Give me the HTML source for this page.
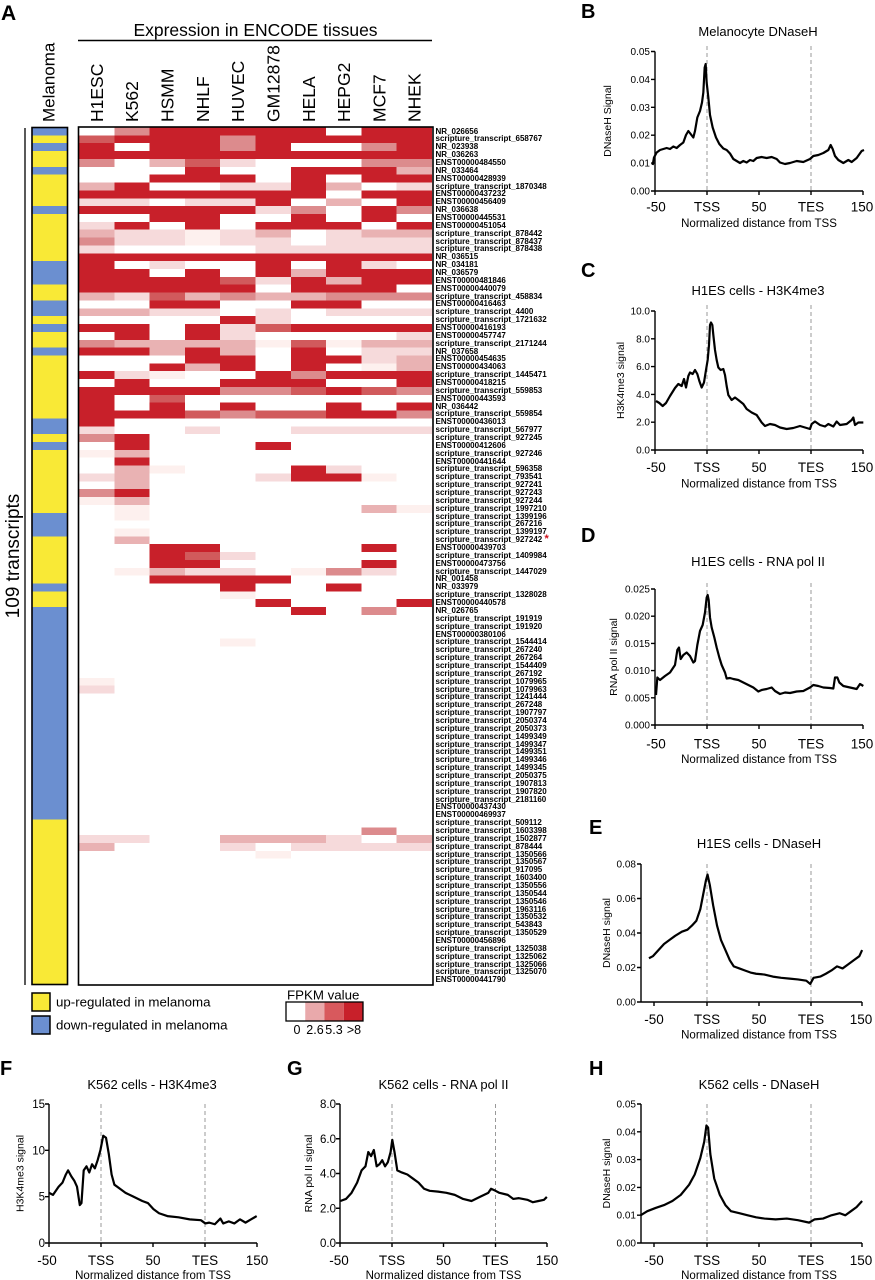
<!DOCTYPE html>
<html><head><meta charset="utf-8">
<style>
html{height:1280px;overflow:hidden;}
html,body{margin:0;padding:0;background:#fff;}
body{width:875px;height:1280px;overflow:hidden;position:relative;font-family:"Liberation Sans",Arial,sans-serif;}
#labs{position:absolute;left:435.5px;top:127.5px;font:bold 8px/7.86px "Liberation Sans",Arial,sans-serif;color:#000;white-space:nowrap;}
#labs div{height:7.86px;line-height:7.86px;margin:0;padding:0;}
svg text{font-family:"Liberation Sans",Arial,sans-serif;fill:#000;}
.lt{font-size:20px;font-weight:bold;}
.tt{font-size:13px;text-anchor:middle;}
.yl{font-size:10px;text-anchor:end;}
.yl2{font-size:11.5px;text-anchor:end;}
.xl{font-size:13.5px;text-anchor:middle;}
.xt{font-size:11.5px;text-anchor:middle;}
.yt{font-size:10.5px;text-anchor:middle;}
.ax{stroke:#000;stroke-width:1.4;fill:none;}
.ds{stroke:#999;stroke-width:1;stroke-dasharray:4 3;fill:none;}
.cv{stroke:#000;stroke-width:2.2;fill:none;stroke-linejoin:round;}
.R{fill:#c8202a}.M{fill:#d15a5c}.P{fill:#dc8b8d}.L{fill:#e9b2b3}.V{fill:#f6dadb}.F{fill:#fdf0ee}.B{fill:#6b8fd0}
</style></head><body>
<svg width="875" height="1280" viewBox="0 0 875 1280" style="position:absolute;left:0;top:0">
<!-- Panel A header -->
<text x="1" y="20" class="lt" style="font-size:21px">A</text>
<text x="255.5" y="36" style="font-size:17.5px;text-anchor:middle">Expression in ENCODE tissues</text>
<line x1="78" y1="40.5" x2="432" y2="40.5" stroke="#000" stroke-width="1.5"/>
<g style="font-size:17.5px">
<text transform="translate(102.9,122) rotate(-90)">H1ESC</text>
<text transform="translate(138.2,122) rotate(-90)">K562</text>
<text transform="translate(173.5,122) rotate(-90)">HSMM</text>
<text transform="translate(208.8,122) rotate(-90)">NHLF</text>
<text transform="translate(244.1,122) rotate(-90)">HUVEC</text>
<text transform="translate(279.5,122) rotate(-90)">GM12878</text>
<text transform="translate(314.8,122) rotate(-90)">HELA</text>
<text transform="translate(350.1,122) rotate(-90)">HEPG2</text>
<text transform="translate(385.4,122) rotate(-90)">MCF7</text>
<text transform="translate(420.7,122) rotate(-90)">NHEK</text>
</g>
<text transform="translate(54.3,122) rotate(-90)" style="font-size:17px">Melanoma</text>
<text transform="translate(19,556) rotate(-90)" style="font-size:19px;text-anchor:middle">109 transcripts</text>
<line x1="25" y1="128" x2="25" y2="985" stroke="#000" stroke-width="1.3"/>

<!-- Melanoma bar -->
<svg x="32" y="127.5" width="35.5" height="857" viewBox="0 0 1 109" preserveAspectRatio="none" shape-rendering="crispEdges">
<rect x="0" y="0" width="1" height="109" fill="#f9e936"/>
<rect class="B" x="0" y="0" width="1" height="1"/>
<rect class="B" x="0" y="2" width="1" height="1"/>
<rect class="B" x="0" y="5" width="1" height="1"/>
<rect class="B" x="0" y="10" width="1" height="1"/>
<rect class="B" x="0" y="17" width="1" height="3"/>
<rect class="B" x="0" y="22" width="1" height="2"/>
<rect class="B" x="0" y="25" width="1" height="1"/>
<rect class="B" x="0" y="28" width="1" height="1"/>
<rect class="B" x="0" y="37" width="1" height="2"/>
<rect class="B" x="0" y="40" width="1" height="1"/>
<rect class="B" x="0" y="49" width="1" height="3"/>
<rect class="B" x="0" y="58" width="1" height="1"/>
<rect class="B" x="0" y="61" width="1" height="27"/>
</svg>
<rect x="32" y="127.5" width="35.5" height="857" fill="none" stroke="#000" stroke-width="1.6"/>

<!-- Heatmap -->
<svg x="79" y="127.5" width="353" height="857" viewBox="0 0 10 109" preserveAspectRatio="none" shape-rendering="crispEdges">
<rect class="P" x="1" y="0" width="1" height="1"/><rect class="R" x="2" y="0" width="5" height="1"/><rect class="R" x="8" y="0" width="2" height="1"/>
<rect class="M" x="0" y="1" width="1" height="1"/><rect class="R" x="1" y="1" width="3" height="1"/><rect class="P" x="4" y="1" width="1" height="1"/><rect class="R" x="5" y="1" width="5" height="1"/>
<rect class="R" x="0" y="2" width="1" height="1"/><rect class="R" x="2" y="2" width="2" height="1"/><rect class="P" x="4" y="2" width="1" height="1"/><rect class="R" x="5" y="2" width="1" height="1"/><rect class="P" x="8" y="2" width="1" height="1"/><rect class="R" x="9" y="2" width="1" height="1"/>
<rect class="R" x="0" y="3" width="10" height="1"/>
<rect class="P" x="0" y="4" width="1" height="1"/><rect class="L" x="2" y="4" width="1" height="1"/><rect class="M" x="3" y="4" width="1" height="1"/><rect class="V" x="4" y="4" width="1" height="1"/><rect class="P" x="8" y="4" width="2" height="1"/>
<rect class="R" x="3" y="5" width="1" height="1"/><rect class="R" x="6" y="5" width="3" height="1"/><rect class="L" x="9" y="5" width="1" height="1"/>
<rect class="R" x="2" y="6" width="3" height="1"/><rect class="R" x="6" y="6" width="1" height="1"/><rect class="R" x="8" y="6" width="2" height="1"/>
<rect class="L" x="0" y="7" width="1" height="1"/><rect class="R" x="1" y="7" width="1" height="1"/><rect class="V" x="4" y="7" width="2" height="1"/><rect class="R" x="6" y="7" width="1" height="1"/><rect class="L" x="7" y="7" width="1" height="1"/><rect class="V" x="9" y="7" width="1" height="1"/>
<rect class="R" x="0" y="8" width="7" height="1"/><rect class="R" x="8" y="8" width="2" height="1"/>
<rect class="V" x="0" y="9" width="2" height="1"/><rect class="V" x="3" y="9" width="2" height="1"/><rect class="R" x="5" y="9" width="1" height="1"/><rect class="L" x="7" y="9" width="1" height="1"/><rect class="R" x="9" y="9" width="1" height="1"/>
<rect class="R" x="0" y="10" width="5" height="1"/><rect class="V" x="5" y="10" width="1" height="1"/><rect class="P" x="6" y="10" width="1" height="1"/><rect class="R" x="8" y="10" width="1" height="1"/><rect class="P" x="9" y="10" width="1" height="1"/>
<rect class="R" x="2" y="11" width="2" height="1"/><rect class="R" x="6" y="11" width="1" height="1"/><rect class="R" x="8" y="11" width="1" height="1"/>
<rect class="V" x="0" y="12" width="1" height="1"/><rect class="R" x="1" y="12" width="1" height="1"/><rect class="R" x="3" y="12" width="1" height="1"/><rect class="R" x="5" y="12" width="3" height="1"/><rect class="R" x="9" y="12" width="1" height="1"/>
<rect class="L" x="0" y="13" width="1" height="1"/><rect class="V" x="1" y="13" width="2" height="1"/><rect class="F" x="3" y="13" width="1" height="1"/><rect class="V" x="4" y="13" width="1" height="1"/><rect class="L" x="5" y="13" width="1" height="1"/><rect class="V" x="7" y="13" width="1" height="1"/><rect class="L" x="8" y="13" width="2" height="1"/>
<rect class="P" x="0" y="14" width="1" height="1"/><rect class="V" x="1" y="14" width="2" height="1"/><rect class="F" x="3" y="14" width="1" height="1"/><rect class="V" x="4" y="14" width="2" height="1"/><rect class="V" x="7" y="14" width="3" height="1"/>
<rect class="V" x="0" y="15" width="1" height="1"/><rect class="V" x="5" y="15" width="5" height="1"/>
<rect class="R" x="0" y="16" width="10" height="1"/>
<rect class="R" x="0" y="17" width="1" height="1"/><rect class="V" x="2" y="17" width="1" height="1"/><rect class="R" x="5" y="17" width="1" height="1"/><rect class="R" x="7" y="17" width="1" height="1"/><rect class="V" x="8" y="17" width="1" height="1"/>
<rect class="R" x="0" y="18" width="2" height="1"/><rect class="R" x="3" y="18" width="1" height="1"/><rect class="R" x="5" y="18" width="1" height="1"/><rect class="L" x="6" y="18" width="1" height="1"/><rect class="R" x="7" y="18" width="3" height="1"/>
<rect class="R" x="0" y="19" width="4" height="1"/><rect class="M" x="4" y="19" width="1" height="1"/><rect class="V" x="5" y="19" width="1" height="1"/><rect class="R" x="6" y="19" width="1" height="1"/><rect class="L" x="7" y="19" width="1" height="1"/><rect class="R" x="8" y="19" width="2" height="1"/>
<rect class="R" x="0" y="20" width="5" height="1"/><rect class="R" x="6" y="20" width="3" height="1"/>
<rect class="L" x="0" y="21" width="1" height="1"/><rect class="V" x="1" y="21" width="1" height="1"/><rect class="M" x="2" y="21" width="1" height="1"/><rect class="L" x="3" y="21" width="1" height="1"/><rect class="P" x="4" y="21" width="1" height="1"/><rect class="L" x="5" y="21" width="2" height="1"/><rect class="P" x="7" y="21" width="3" height="1"/>
<rect class="R" x="2" y="22" width="2" height="1"/><rect class="R" x="6" y="22" width="2" height="1"/>
<rect class="L" x="0" y="23" width="2" height="1"/><rect class="V" x="2" y="23" width="2" height="1"/><rect class="V" x="5" y="23" width="1" height="1"/><rect class="V" x="7" y="23" width="3" height="1"/>
<rect class="R" x="4" y="24" width="1" height="1"/><rect class="V" x="5" y="24" width="1" height="1"/>
<rect class="R" x="0" y="25" width="2" height="1"/><rect class="R" x="3" y="25" width="1" height="1"/><rect class="V" x="4" y="25" width="1" height="1"/><rect class="M" x="5" y="25" width="1" height="1"/><rect class="R" x="6" y="25" width="4" height="1"/>
<rect class="R" x="1" y="26" width="1" height="1"/><rect class="R" x="3" y="26" width="1" height="1"/><rect class="V" x="4" y="26" width="1" height="1"/><rect class="V" x="9" y="26" width="1" height="1"/>
<rect class="P" x="0" y="27" width="1" height="1"/><rect class="L" x="1" y="27" width="4" height="1"/><rect class="F" x="5" y="27" width="1" height="1"/><rect class="M" x="6" y="27" width="1" height="1"/><rect class="F" x="7" y="27" width="1" height="1"/><rect class="L" x="8" y="27" width="2" height="1"/>
<rect class="R" x="0" y="28" width="2" height="1"/><rect class="L" x="2" y="28" width="1" height="1"/><rect class="R" x="3" y="28" width="1" height="1"/><rect class="L" x="4" y="28" width="1" height="1"/><rect class="R" x="6" y="28" width="1" height="1"/><rect class="V" x="8" y="28" width="2" height="1"/>
<rect class="R" x="3" y="29" width="2" height="1"/><rect class="R" x="6" y="29" width="2" height="1"/><rect class="V" x="8" y="29" width="1" height="1"/><rect class="L" x="9" y="29" width="1" height="1"/>
<rect class="R" x="2" y="30" width="1" height="1"/><rect class="L" x="3" y="30" width="1" height="1"/><rect class="R" x="4" y="30" width="1" height="1"/><rect class="R" x="6" y="30" width="1" height="1"/><rect class="F" x="8" y="30" width="1" height="1"/><rect class="L" x="9" y="30" width="1" height="1"/>
<rect class="R" x="0" y="31" width="1" height="1"/><rect class="V" x="1" y="31" width="1" height="1"/><rect class="F" x="2" y="31" width="1" height="1"/><rect class="R" x="5" y="31" width="1" height="1"/><rect class="P" x="6" y="31" width="1" height="1"/><rect class="R" x="7" y="31" width="3" height="1"/>
<rect class="R" x="1" y="32" width="1" height="1"/><rect class="R" x="4" y="32" width="3" height="1"/><rect class="R" x="9" y="32" width="1" height="1"/>
<rect class="R" x="0" y="33" width="4" height="1"/><rect class="P" x="4" y="33" width="2" height="1"/><rect class="M" x="6" y="33" width="1" height="1"/><rect class="R" x="7" y="33" width="1" height="1"/><rect class="M" x="8" y="33" width="1" height="1"/><rect class="P" x="9" y="33" width="1" height="1"/>
<rect class="R" x="0" y="34" width="1" height="1"/><rect class="M" x="2" y="34" width="1" height="1"/>
<rect class="R" x="0" y="35" width="1" height="1"/><rect class="R" x="2" y="35" width="1" height="1"/><rect class="R" x="4" y="35" width="1" height="1"/><rect class="R" x="7" y="35" width="1" height="1"/><rect class="R" x="9" y="35" width="1" height="1"/>
<rect class="R" x="0" y="36" width="3" height="1"/><rect class="M" x="3" y="36" width="1" height="1"/><rect class="P" x="4" y="36" width="1" height="1"/><rect class="M" x="5" y="36" width="2" height="1"/><rect class="R" x="7" y="36" width="2" height="1"/><rect class="P" x="9" y="36" width="1" height="1"/>
<rect class="R" x="0" y="37" width="1" height="1"/>
<rect class="V" x="0" y="38" width="1" height="1"/><rect class="V" x="3" y="38" width="1" height="1"/><rect class="V" x="6" y="38" width="4" height="1"/>
<rect class="P" x="0" y="39" width="1" height="1"/><rect class="R" x="1" y="39" width="1" height="1"/>
<rect class="R" x="1" y="40" width="1" height="1"/><rect class="R" x="5" y="40" width="1" height="1"/>
<rect class="F" x="0" y="41" width="1" height="1"/><rect class="L" x="1" y="41" width="1" height="1"/>
<rect class="R" x="1" y="42" width="1" height="1"/>
<rect class="L" x="1" y="43" width="1" height="1"/><rect class="F" x="2" y="43" width="1" height="1"/><rect class="R" x="6" y="43" width="1" height="1"/><rect class="V" x="7" y="43" width="1" height="1"/>
<rect class="V" x="0" y="44" width="1" height="1"/><rect class="L" x="1" y="44" width="1" height="1"/><rect class="V" x="5" y="44" width="1" height="1"/><rect class="R" x="6" y="44" width="2" height="1"/><rect class="F" x="8" y="44" width="1" height="1"/>
<rect class="L" x="1" y="45" width="1" height="1"/>
<rect class="P" x="0" y="46" width="1" height="1"/><rect class="R" x="1" y="46" width="1" height="1"/>
<rect class="F" x="0" y="47" width="1" height="1"/><rect class="L" x="1" y="47" width="1" height="1"/>
<rect class="F" x="1" y="48" width="1" height="1"/><rect class="L" x="8" y="48" width="1" height="1"/><rect class="F" x="9" y="48" width="1" height="1"/>
<rect class="F" x="1" y="49" width="1" height="1"/>
<rect class="F" x="1" y="51" width="1" height="1"/>
<rect class="L" x="1" y="52" width="1" height="1"/>
<rect class="R" x="2" y="53" width="2" height="1"/><rect class="R" x="8" y="53" width="1" height="1"/>
<rect class="R" x="2" y="54" width="1" height="1"/><rect class="M" x="3" y="54" width="1" height="1"/><rect class="V" x="4" y="54" width="1" height="1"/>
<rect class="R" x="2" y="55" width="2" height="1"/><rect class="R" x="8" y="55" width="1" height="1"/>
<rect class="F" x="1" y="56" width="1" height="1"/><rect class="L" x="2" y="56" width="1" height="1"/><rect class="V" x="3" y="56" width="2" height="1"/><rect class="F" x="6" y="56" width="1" height="1"/><rect class="P" x="7" y="56" width="1" height="1"/><rect class="V" x="8" y="56" width="1" height="1"/>
<rect class="R" x="2" y="57" width="4" height="1"/>
<rect class="R" x="4" y="58" width="1" height="1"/><rect class="R" x="7" y="58" width="1" height="1"/>
<rect class="F" x="4" y="59" width="1" height="1"/>
<rect class="R" x="5" y="60" width="1" height="1"/><rect class="R" x="9" y="60" width="1" height="1"/>
<rect class="R" x="6" y="61" width="1" height="1"/><rect class="P" x="8" y="61" width="1" height="1"/>
<rect class="F" x="4" y="65" width="1" height="1"/>
<rect class="F" x="0" y="70" width="1" height="1"/>
<rect class="V" x="0" y="71" width="1" height="1"/>
<rect class="P" x="8" y="89" width="1" height="1"/>
<rect class="V" x="0" y="90" width="2" height="1"/><rect class="L" x="4" y="90" width="3" height="1"/><rect class="V" x="7" y="90" width="1" height="1"/><rect class="L" x="9" y="90" width="1" height="1"/>
<rect class="L" x="0" y="91" width="1" height="1"/><rect class="V" x="4" y="91" width="1" height="1"/><rect class="V" x="6" y="91" width="4" height="1"/>
<rect class="F" x="5" y="92" width="1" height="1"/>
</svg>
<rect x="78.5" y="127" width="354.5" height="858" fill="none" stroke="#000" stroke-width="1.6"/>

<!-- Legend -->
<rect x="32" y="993" width="18" height="18" fill="#f9e936" stroke="#000" stroke-width="1.5"/>
<rect x="32" y="1016" width="18" height="18" fill="#6b8fd0" stroke="#000" stroke-width="1.5"/>
<text x="56" y="1006.5" style="font-size:13.3px">up-regulated in melanoma</text>
<text x="56" y="1029.5" style="font-size:13.3px">down-regulated in melanoma</text>
<text x="287" y="999.5" style="font-size:13.3px">FPKM value</text>
<rect x="305.25" y="1002" width="19.25" height="19" fill="#e9a9ab"/>
<rect x="324.5" y="1002" width="19.25" height="19" fill="#d8595d"/>
<rect x="343.75" y="1002" width="19.25" height="19" fill="#c8202a"/>
<rect x="286" y="1002" width="77" height="19" fill="none" stroke="#000" stroke-width="1.3"/>
<g style="font-size:12.5px;text-anchor:middle">
<text x="297" y="1034">0</text><text x="315" y="1034">2.6</text><text x="334" y="1034">5.3</text><text x="354" y="1034">&gt;8</text>
</g>

<!-- Panel B -->
<text x="581" y="18" class="lt">B</text>
<text x="758" y="36" class="tt">Melanocyte DNaseH</text>
<line x1="707" y1="46" x2="707" y2="191" class="ds"/><line x1="811" y1="46" x2="811" y2="191" class="ds"/>
<path class="ax" d="M655 51.5V191H863M651 191H655M651 163.1H655M651 135.2H655M651 107.3H655M651 79.4H655M651 51.5H655M655 191V195M707 191V195M759 191V195M811 191V195M863 191V195"/>
<text x="650" y="194.5" class="yl">0.00</text><text x="650" y="166.6" class="yl">0.01</text><text x="650" y="138.7" class="yl">0.02</text><text x="650" y="110.8" class="yl">0.03</text><text x="650" y="82.9" class="yl">0.04</text><text x="650" y="55" class="yl">0.05</text>
<text x="656" y="211.5" class="xl">-50</text><text x="707" y="211.5" class="xl">TSS</text><text x="759" y="211.5" class="xl">50</text><text x="811" y="211.5" class="xl">TES</text><text x="862" y="211.5" class="xl">150</text>
<text x="759" y="227" class="xt">Normalized distance from TSS</text>
<text transform="translate(611,121) rotate(-90)" class="yt">DNaseH Signal</text>
<g transform="translate(580,0) scale(0.33333,0.5)"><polyline class="cv" vector-effect="non-scaling-stroke" points="218,330 222,315 230,305 240,300 250,298 260,296 270,298 280,293 290,296 300,290 310,285 318,270 325,262 332,268 340,275 345,262 352,235 360,222 366,205 370,185 374,135 377,128 380,165 385,195 390,230 398,255 408,275 418,288 430,297 440,300 450,307 460,318 470,322 480,326 490,322 500,325 510,320 520,322 530,316 545,314 560,316 575,314 590,318 600,325 615,328 630,326 650,322 670,324 690,318 700,312 715,310 730,306 745,300 752,290 758,298 765,312 775,320 790,326 805,320 815,324 830,316 845,302 852,300"/></g>

<!-- Panel C -->
<text x="581" y="277" class="lt">C</text>
<text x="758" y="295" class="tt">H1ES cells - H3K4me3</text>
<line x1="707" y1="305" x2="707" y2="450" class="ds"/><line x1="811" y1="305" x2="811" y2="450" class="ds"/>
<path class="ax" d="M655 311V450H863M651 450H655M651 422.2H655M651 394.4H655M651 366.6H655M651 338.8H655M651 311H655M655 450V454M707 450V454M759 450V454M811 450V454M863 450V454"/>
<text x="650" y="453.5" class="yl">0.0</text><text x="650" y="425.7" class="yl">2.0</text><text x="650" y="397.9" class="yl">4.0</text><text x="650" y="370.1" class="yl">6.0</text><text x="650" y="342.3" class="yl">8.0</text><text x="650" y="314.5" class="yl">10.0</text>
<text x="656" y="472" class="xl">-50</text><text x="707" y="472" class="xl">TSS</text><text x="759" y="472" class="xl">50</text><text x="811" y="472" class="xl">TES</text><text x="862" y="472" class="xl">150</text>
<text x="759" y="487.5" class="xt">Normalized distance from TSS</text>
<text transform="translate(624,380.5) rotate(-90)" class="yt">H3K4me3 signal</text>
<g transform="translate(580,0) scale(0.33333,0.5)"><polyline class="cv" vector-effect="non-scaling-stroke" points="228,802 238,806 248,812 258,806 270,792 285,776 295,768 305,772 312,758 318,775 325,752 330,745 338,748 345,740 352,748 358,762 365,775 372,765 378,740 383,720 387,690 390,650 393,645 397,650 400,670 405,700 410,720 415,735 422,740 430,738 435,750 440,772 445,790 455,800 465,795 475,800 490,808 500,818 515,825 530,830 545,845 555,852 570,848 585,850 600,855 620,858 640,856 660,852 675,855 690,858 695,848 705,843 720,850 735,853 745,848 760,853 770,843 780,850 800,848 815,840 820,835 825,850 835,845 850,845"/></g>

<!-- Panel D -->
<text x="581" y="542" class="lt">D</text>
<text x="758" y="566" class="tt">H1ES cells - RNA pol II</text>
<line x1="707" y1="583" x2="707" y2="725" class="ds"/><line x1="811" y1="583" x2="811" y2="725" class="ds"/>
<path class="ax" d="M655 589V725H863M651 725H655M651 697.8H655M651 670.6H655M651 643.4H655M651 616.2H655M651 589H655M655 725V729M707 725V729M759 725V729M811 725V729M863 725V729"/>
<text x="650" y="728.5" class="yl">0.000</text><text x="650" y="701.3" class="yl">0.005</text><text x="650" y="674.1" class="yl">0.010</text><text x="650" y="646.9" class="yl">0.015</text><text x="650" y="619.7" class="yl">0.020</text><text x="650" y="592.5" class="yl">0.025</text>
<text x="656" y="748.5" class="xl">-50</text><text x="707" y="748.5" class="xl">TSS</text><text x="759" y="748.5" class="xl">50</text><text x="811" y="748.5" class="xl">TES</text><text x="862" y="748.5" class="xl">150</text>
<text x="759" y="763" class="xt">Normalized distance from TSS</text>
<text transform="translate(617,657) rotate(-90)" class="yt">RNA pol II signal</text>
<g transform="translate(580,0) scale(0.33333,0.5)"><polyline class="cv" vector-effect="non-scaling-stroke" points="228,1390 232,1355 240,1360 255,1352 270,1345 285,1330 292,1300 297,1295 302,1318 310,1310 320,1305 330,1312 340,1325 345,1322 352,1290 360,1262 368,1250 375,1225 380,1195 383,1190 386,1200 390,1235 395,1255 403,1275 410,1295 418,1315 425,1330 435,1345 440,1357 450,1356 460,1358 475,1360 490,1365 505,1370 520,1375 535,1383 545,1380 560,1378 575,1375 585,1382 600,1388 615,1385 630,1386 650,1383 670,1382 690,1375 700,1370 715,1372 730,1375 750,1376 760,1377 765,1355 772,1355 778,1365 790,1372 810,1375 830,1378 840,1368 850,1372"/></g>

<!-- Panel E -->
<text x="589" y="834" class="lt">E</text>
<text x="759" y="848" class="tt">H1ES cells - DNaseH</text>
<line x1="707" y1="864" x2="707" y2="1002" class="ds"/><line x1="811" y1="864" x2="811" y2="1002" class="ds"/>
<path class="ax" d="M641 864V1002H862M637 1002H641M637 967.5H641M637 933H641M637 898.5H641M637 864H641M654 1002V1006M707 1002V1006M759 1002V1006M811 1002V1006M862 1002V1006"/>
<text x="636" y="1005.5" class="yl">0.00</text><text x="636" y="971" class="yl">0.02</text><text x="636" y="936.5" class="yl">0.04</text><text x="636" y="902" class="yl">0.06</text><text x="636" y="867.5" class="yl">0.08</text>
<text x="654" y="1024" class="xl">-50</text><text x="707" y="1024" class="xl">TSS</text><text x="759" y="1024" class="xl">50</text><text x="811" y="1024" class="xl">TES</text><text x="861" y="1024" class="xl">150</text>
<text x="759" y="1038.5" class="xt">Normalized distance from TSS</text>
<text transform="translate(610,933) rotate(-90)" class="yt">DNaseH signal</text>
<g transform="translate(0,640) scale(0.558,0.408)"><polyline class="cv" vector-effect="non-scaling-stroke" points="1163,780 1170,775 1180,760 1190,745 1200,735 1210,725 1222,715 1232,710 1240,700 1248,688 1255,660 1260,625 1265,590 1268,575 1272,600 1278,650 1285,700 1292,735 1300,760 1308,785 1315,800 1325,805 1335,810 1345,815 1355,818 1370,820 1385,825 1400,828 1415,830 1430,832 1445,835 1452,843 1458,828 1470,825 1480,818 1490,810 1500,800 1510,805 1520,795 1530,785 1540,775 1545,760"/></g>

<!-- Panel F -->
<text x="0" y="1075" class="lt">F</text>
<text x="152" y="1089" class="tt">K562 cells - H3K4me3</text>
<line x1="101" y1="1104" x2="101" y2="1243" class="ds"/><line x1="205" y1="1104" x2="205" y2="1243" class="ds"/>
<path class="ax" d="M49 1104V1243H257M45 1243H49M45 1196.7H49M45 1150.3H49M45 1104H49M49 1243V1247M101 1243V1247M153 1243V1247M205 1243V1247M257 1243V1247"/>
<text x="45" y="1247" class="yl2">0</text><text x="45" y="1200.7" class="yl2">5</text><text x="45" y="1154.3" class="yl2">10</text><text x="45" y="1108" class="yl2">15</text>
<text x="47" y="1265" class="xl">-50</text><text x="101" y="1265" class="xl">TSS</text><text x="153" y="1265" class="xl">50</text><text x="205" y="1265" class="xl">TES</text><text x="257" y="1265" class="xl">150</text>
<text x="153" y="1279" class="xt">Normalized distance from TSS</text>
<text transform="translate(23.5,1173.5) rotate(-90)" class="yt">H3K4me3 signal</text>
<g transform="translate(0,640) scale(0.558,0.408)"><polyline class="cv" vector-effect="non-scaling-stroke" points="88,1355 95,1360 105,1340 112,1330 118,1310 122,1300 128,1315 133,1325 138,1340 143,1385 146,1380 150,1300 155,1290 160,1305 165,1285 170,1295 175,1275 180,1250 185,1215 190,1220 195,1260 200,1310 205,1335 215,1345 225,1355 240,1365 255,1375 265,1380 275,1395 285,1405 300,1412 320,1415 340,1420 360,1422 368,1430 375,1428 385,1432 395,1418 400,1430 410,1425 420,1430 430,1420 440,1428 450,1420 460,1412"/></g>

<!-- Panel G -->
<text x="287" y="1075" class="lt">G</text>
<text x="443.5" y="1089" class="tt">K562 cells - RNA pol II</text>
<line x1="392" y1="1104" x2="392" y2="1243" class="ds"/><line x1="495.5" y1="1104" x2="495.5" y2="1243" class="ds"/>
<path class="ax" d="M340 1104V1243H547M336 1243H340M336 1208.25H340M336 1173.5H340M336 1138.75H340M336 1104H340M340 1243V1247M392 1243V1247M443.5 1243V1247M495.5 1243V1247M547 1243V1247"/>
<text x="336" y="1247" class="yl2">0.0</text><text x="336" y="1212.25" class="yl2">2.0</text><text x="336" y="1177.5" class="yl2">4.0</text><text x="336" y="1142.75" class="yl2">6.0</text><text x="336" y="1108" class="yl2">8.0</text>
<text x="339" y="1265" class="xl">-50</text><text x="392" y="1265" class="xl">TSS</text><text x="443.5" y="1265" class="xl">50</text><text x="495.5" y="1265" class="xl">TES</text><text x="547" y="1265" class="xl">150</text>
<text x="443.5" y="1279" class="xt">Normalized distance from TSS</text>
<text transform="translate(312,1173.5) rotate(-90)" class="yt">RNA pol II signal</text>
<g transform="translate(0,640) scale(0.558,0.408)"><polyline class="cv" vector-effect="non-scaling-stroke" points="610,1375 620,1370 630,1355 640,1330 648,1300 655,1290 660,1255 665,1265 670,1250 675,1290 680,1285 685,1275 690,1290 695,1280 700,1255 703,1225 707,1255 712,1300 720,1305 730,1310 740,1320 750,1330 760,1345 770,1350 785,1352 800,1355 815,1360 830,1370 845,1375 860,1365 875,1355 880,1345 888,1350 895,1355 910,1360 920,1370 930,1368 945,1372 955,1378 965,1375 975,1372 980,1365"/></g>

<!-- Panel H -->
<text x="589" y="1075" class="lt">H</text>
<text x="759" y="1089" class="tt">K562 cells - DNaseH</text>
<line x1="707" y1="1104" x2="707" y2="1243" class="ds"/><line x1="811" y1="1104" x2="811" y2="1243" class="ds"/>
<path class="ax" d="M641 1104V1243H862M637 1243H641M637 1215.2H641M637 1187.4H641M637 1159.6H641M637 1131.8H641M637 1104H641M654 1243V1247M707 1243V1247M759 1243V1247M811 1243V1247M862 1243V1247"/>
<text x="636" y="1246.5" class="yl">0.00</text><text x="636" y="1218.7" class="yl">0.01</text><text x="636" y="1190.9" class="yl">0.02</text><text x="636" y="1163.1" class="yl">0.03</text><text x="636" y="1135.3" class="yl">0.04</text><text x="636" y="1107.5" class="yl">0.05</text>
<text x="654" y="1265" class="xl">-50</text><text x="707" y="1265" class="xl">TSS</text><text x="759" y="1265" class="xl">50</text><text x="811" y="1265" class="xl">TES</text><text x="861" y="1265" class="xl">150</text>
<text x="759" y="1279" class="xt">Normalized distance from TSS</text>
<text transform="translate(610,1173.5) rotate(-90)" class="yt">DNaseH signal</text>
<g transform="translate(0,640) scale(0.558,0.408)"><polyline class="cv" vector-effect="non-scaling-stroke" points="1148,1410 1160,1400 1175,1392 1190,1385 1205,1375 1220,1360 1235,1335 1245,1310 1255,1270 1262,1230 1266,1190 1269,1195 1273,1260 1280,1320 1290,1360 1300,1385 1310,1400 1325,1405 1340,1410 1355,1415 1370,1418 1390,1420 1410,1418 1430,1422 1450,1428 1460,1420 1475,1418 1490,1410 1505,1405 1515,1410 1525,1400 1535,1390 1545,1375"/></g>
</svg>

<div id="labs"><div>NR_026656</div><div>scripture_transcript_658767</div><div>NR_023938</div><div>NR_036263</div><div>ENST00000484550</div><div>NR_033464</div><div>ENST00000428939</div><div>scripture_transcript_1870348</div><div>ENST00000437232</div><div>ENST00000456409</div><div>NR_036638</div><div>ENST00000445531</div><div>ENST00000451054</div><div>scripture_transcript_878442</div><div>scripture_transcript_878437</div><div>scripture_transcript_878438</div><div>NR_036515</div><div>NR_034181</div><div>NR_036579</div><div>ENST00000481846</div><div>ENST00000440079</div><div>scripture_transcript_458834</div><div>ENST00000416463</div><div>scripture_transcript_4400</div><div>scripture_transcript_1721632</div><div>ENST00000416193</div><div>ENST00000457747</div><div>scripture_transcript_2171244</div><div>NR_037658</div><div>ENST00000454635</div><div>ENST00000434063</div><div>scripture_transcript_1445471</div><div>ENST00000418215</div><div>scripture_transcript_559853</div><div>ENST00000443593</div><div>NR_036442</div><div>scripture_transcript_559854</div><div>ENST00000436013</div><div>scripture_transcript_567977</div><div>scripture_transcript_927245</div><div>ENST00000412606</div><div>scripture_transcript_927246</div><div>ENST00000441644</div><div>scripture_transcript_596358</div><div>scripture_transcript_793541</div><div>scripture_transcript_927241</div><div>scripture_transcript_927243</div><div>scripture_transcript_927244</div><div>scripture_transcript_1997210</div><div>scripture_transcript_1399196</div><div>scripture_transcript_267216</div><div>scripture_transcript_1399197</div><div>scripture_transcript_927242 <span style="color:#d0101a;font-size:11px">*</span></div><div>ENST00000439703</div><div>scripture_transcript_1409984</div><div>ENST00000473756</div><div>scripture_transcript_1447029</div><div>NR_001458</div><div>NR_033979</div><div>scripture_transcript_1328028</div><div>ENST00000440578</div><div>NR_026765</div><div>scripture_transcript_191919</div><div>scripture_transcript_191920</div><div>ENST00000380106</div><div>scripture_transcript_1544414</div><div>scripture_transcript_267240</div><div>scripture_transcript_267264</div><div>scripture_transcript_1544409</div><div>scripture_transcript_267192</div><div>scripture_transcript_1079965</div><div>scripture_transcript_1079963</div><div>scripture_transcript_1241444</div><div>scripture_transcript_267248</div><div>scripture_transcript_1907797</div><div>scripture_transcript_2050374</div><div>scripture_transcript_2050373</div><div>scripture_transcript_1499349</div><div>scripture_transcript_1499347</div><div>scripture_transcript_1499351</div><div>scripture_transcript_1499346</div><div>scripture_transcript_1499345</div><div>scripture_transcript_2050375</div><div>scripture_transcript_1907813</div><div>scripture_transcript_1907820</div><div>scripture_transcript_2181160</div><div>ENST00000437430</div><div>ENST00000469937</div><div>scripture_transcript_509112</div><div>scripture_transcript_1603398</div><div>scripture_transcript_1502877</div><div>scripture_transcript_878444</div><div>scripture_transcript_1350566</div><div>scripture_transcript_1350567</div><div>scripture_transcript_917095</div><div>scripture_transcript_1603400</div><div>scripture_transcript_1350556</div><div>scripture_transcript_1350544</div><div>scripture_transcript_1350546</div><div>scripture_transcript_1963116</div><div>scripture_transcript_1350532</div><div>scripture_transcript_543843</div><div>scripture_transcript_1350529</div><div>ENST00000456896</div><div>scripture_transcript_1325038</div><div>scripture_transcript_1325062</div><div>scripture_transcript_1325066</div><div>scripture_transcript_1325070</div><div>ENST00000441790</div></div>
</body></html>
